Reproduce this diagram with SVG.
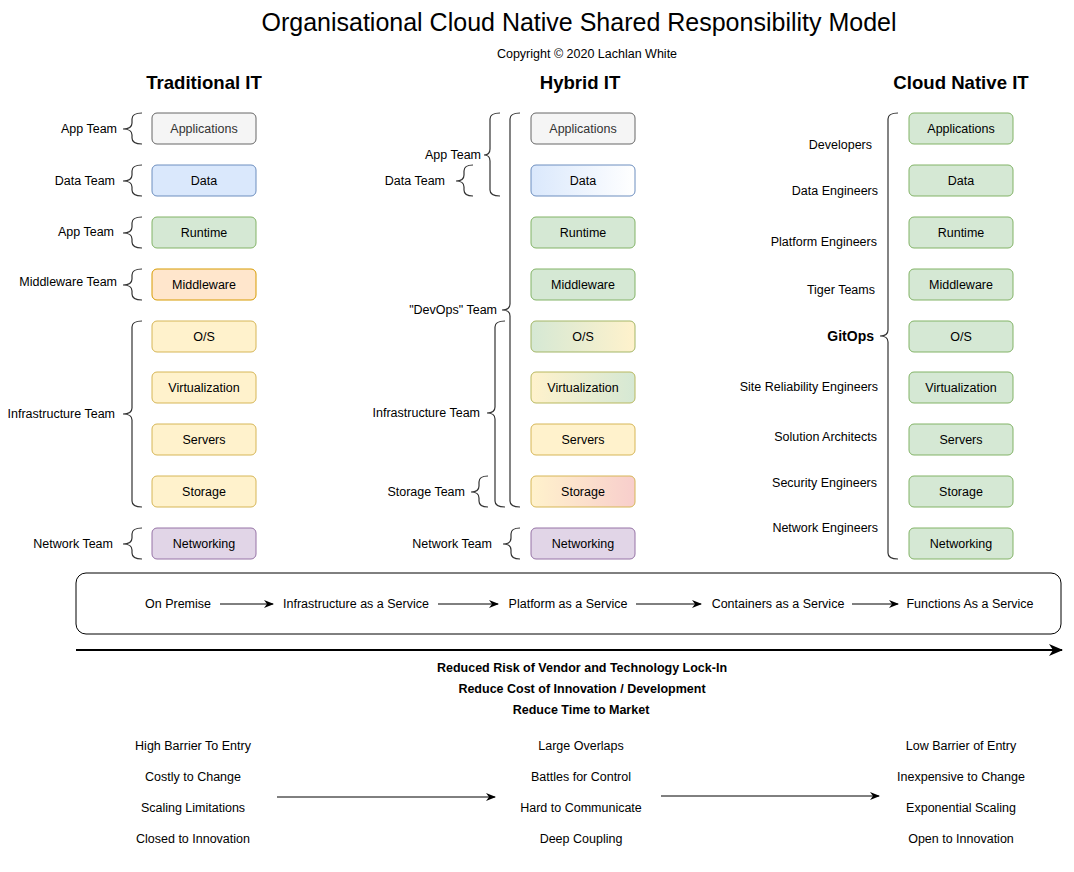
<svg xmlns="http://www.w3.org/2000/svg" width="1074" height="872" viewBox="0 0 1074 872">
<defs>
<style>
text{font-family:"Liberation Sans",Arial,Helvetica,sans-serif;fill:#000}
.t{font-size:25px;text-anchor:middle}
.cp{font-size:12.5px;text-anchor:middle}
.h{font-size:18.6px;font-weight:bold;text-anchor:middle}
.bx{font-size:12.5px;text-anchor:middle;dominant-baseline:central}
.lb{font-size:12.5px;text-anchor:end;dominant-baseline:central}
.md{font-size:12.5px;text-anchor:middle;dominant-baseline:central}
.bd{font-size:12.5px;font-weight:bold;text-anchor:middle;dominant-baseline:central}
.br{fill:none;stroke:#333;stroke-width:1.2}
.gray{fill:#f5f5f5;stroke:#666}
.blue{fill:#dae8fc;stroke:#6c8ebf}
.green{fill:#d5e8d4;stroke:#82b366}
.orange{fill:#ffe6cc;stroke:#d79b00}
.yellow{fill:#fff2cc;stroke:#d6b656}
.purple{fill:#e1d5e7;stroke:#9673a6}
rect.n{stroke-width:1}
.ar{stroke:#000;stroke-width:1;fill:none}
</style>
<linearGradient id="gBlue" x1="0" x2="1" y1="0" y2="0"><stop offset="0" stop-color="#dae8fc"/><stop offset="1" stop-color="#ffffff"/></linearGradient>
<linearGradient id="gGY" x1="0" x2="1" y1="0" y2="0"><stop offset="0" stop-color="#d5e8d4"/><stop offset="1" stop-color="#fff2cc"/></linearGradient>
<linearGradient id="gYG" x1="0" x2="1" y1="0" y2="0"><stop offset="0" stop-color="#fff2cc"/><stop offset="1" stop-color="#d5e8d4"/></linearGradient>
<linearGradient id="gYR" x1="0" x2="1" y1="0" y2="0"><stop offset="0" stop-color="#fff2cc"/><stop offset="1" stop-color="#f8cecc"/></linearGradient>
<marker id="ah" markerWidth="10" markerHeight="8" refX="9" refY="4" orient="auto" markerUnits="userSpaceOnUse"><path d="M0,0 L10,4 L0,8 L3,4 Z" fill="#000"/></marker>
<marker id="ahb" markerWidth="14" markerHeight="12" refX="13" refY="6" orient="auto" markerUnits="userSpaceOnUse"><path d="M0,0 L14,6 L0,12 L4,6 Z" fill="#000"/></marker>
</defs>
<rect width="1074" height="872" fill="#fff"/>

<g id="title">
<text class="t" x="579" y="31">Organisational Cloud Native Shared Responsibility Model</text>
<text class="cp" x="587" y="58">Copyright © 2020 Lachlan White</text>
</g>

<g id="headers">
<text class="h" x="204" y="89">Traditional IT</text>
<text class="h" x="580" y="89">Hybrid IT</text>
<text class="h" x="961" y="89">Cloud Native IT</text>
</g>

<!-- Traditional IT -->
<g id="trad-applications"><rect class="n gray" x="152" y="113" width="104" height="31" rx="5"/><text class="bx" x="204" y="129" style="fill:#333">Applications</text></g>
<g id="trad-data"><rect class="n blue" x="152" y="165" width="104" height="31" rx="5"/><text class="bx" x="204" y="181">Data</text></g>
<g id="trad-runtime"><rect class="n green" x="152" y="217" width="104" height="31" rx="5"/><text class="bx" x="204" y="233">Runtime</text></g>
<g id="trad-middleware"><rect class="n orange" x="152" y="269" width="104" height="31" rx="5"/><text class="bx" x="204" y="285">Middleware</text></g>
<g id="trad-os"><rect class="n yellow" x="152" y="321" width="104" height="31" rx="5"/><text class="bx" x="204" y="337">O/S</text></g>
<g id="trad-virtualization"><rect class="n yellow" x="152" y="372" width="104" height="31" rx="5"/><text class="bx" x="204" y="388">Virtualization</text></g>
<g id="trad-servers"><rect class="n yellow" x="152" y="424" width="104" height="31" rx="5"/><text class="bx" x="204" y="440">Servers</text></g>
<g id="trad-storage"><rect class="n yellow" x="152" y="476" width="104" height="31" rx="5"/><text class="bx" x="204" y="492">Storage</text></g>
<g id="trad-networking"><rect class="n purple" x="152" y="528" width="104" height="31" rx="5"/><text class="bx" x="204" y="544">Networking</text></g>

<g id="trad-teams">
<text class="lb" x="117" y="129">App Team</text>
<text class="lb" x="115" y="181">Data Team</text>
<text class="lb" x="114" y="232">App Team</text>
<text class="lb" x="117" y="282">Middleware Team</text>
<text class="lb" x="115" y="414">Infrastructure Team</text>
<text class="lb" x="113" y="544">Network Team</text>
</g>

<!-- Hybrid IT -->
<g id="hyb-applications"><rect class="n gray" x="531" y="113" width="104" height="31" rx="5"/><text class="bx" x="583" y="129" style="fill:#333">Applications</text></g>
<g id="hyb-data"><rect class="n" x="531" y="165" width="104" height="31" rx="5" fill="url(#gBlue)" stroke="#6c8ebf"/><text class="bx" x="583" y="181">Data</text></g>
<g id="hyb-runtime"><rect class="n green" x="531" y="217" width="104" height="31" rx="5"/><text class="bx" x="583" y="233">Runtime</text></g>
<g id="hyb-middleware"><rect class="n green" x="531" y="269" width="104" height="31" rx="5"/><text class="bx" x="583" y="285">Middleware</text></g>
<g id="hyb-os"><rect class="n" x="531" y="321" width="104" height="31" rx="5" fill="url(#gGY)" stroke="#a3b666"/><text class="bx" x="583" y="337">O/S</text></g>
<g id="hyb-virtualization"><rect class="n" x="531" y="372" width="104" height="31" rx="5" fill="url(#gYG)" stroke="#b8b85e"/><text class="bx" x="583" y="388">Virtualization</text></g>
<g id="hyb-servers"><rect class="n yellow" x="531" y="424" width="104" height="31" rx="5"/><text class="bx" x="583" y="440">Servers</text></g>
<g id="hyb-storage"><rect class="n" x="531" y="476" width="104" height="31" rx="5" fill="url(#gYR)" stroke="#d6b656"/><text class="bx" x="583" y="492">Storage</text></g>
<g id="hyb-networking"><rect class="n purple" x="531" y="528" width="104" height="31" rx="5"/><text class="bx" x="583" y="544">Networking</text></g>

<g id="hyb-teams">
<text class="lb" x="481" y="155">App Team</text>
<text class="lb" x="445" y="181">Data Team</text>
<text class="lb" x="497" y="310">"DevOps" Team</text>
<text class="lb" x="480" y="413">Infrastructure Team</text>
<text class="lb" x="465" y="492">Storage Team</text>
<text class="lb" x="492" y="544">Network Team</text>
</g>

<!-- Cloud Native IT -->
<g id="cn-applications"><rect class="n green" x="909" y="113" width="104" height="31" rx="5"/><text class="bx" x="961" y="129">Applications</text></g>
<g id="cn-data"><rect class="n green" x="909" y="165" width="104" height="31" rx="5"/><text class="bx" x="961" y="181">Data</text></g>
<g id="cn-runtime"><rect class="n green" x="909" y="217" width="104" height="31" rx="5"/><text class="bx" x="961" y="233">Runtime</text></g>
<g id="cn-middleware"><rect class="n green" x="909" y="269" width="104" height="31" rx="5"/><text class="bx" x="961" y="285">Middleware</text></g>
<g id="cn-os"><rect class="n green" x="909" y="321" width="104" height="31" rx="5"/><text class="bx" x="961" y="337">O/S</text></g>
<g id="cn-virtualization"><rect class="n green" x="909" y="372" width="104" height="31" rx="5"/><text class="bx" x="961" y="388">Virtualization</text></g>
<g id="cn-servers"><rect class="n green" x="909" y="424" width="104" height="31" rx="5"/><text class="bx" x="961" y="440">Servers</text></g>
<g id="cn-storage"><rect class="n green" x="909" y="476" width="104" height="31" rx="5"/><text class="bx" x="961" y="492">Storage</text></g>
<g id="cn-networking"><rect class="n green" x="909" y="528" width="104" height="31" rx="5"/><text class="bx" x="961" y="544">Networking</text></g>

<g id="cn-teams">
<text class="lb" x="872" y="145">Developers</text>
<text class="lb" x="878" y="191">Data Engineers</text>
<text class="lb" x="877" y="242">Platform Engineers</text>
<text class="lb" x="875" y="290">Tiger Teams</text>
<text class="lb" x="874" y="336" style="font-weight:bold;font-size:14px">GitOps</text>
<text class="lb" x="878" y="387">Site Reliability Engineers</text>
<text class="lb" x="877" y="437">Solution Architects</text>
<text class="lb" x="877" y="483">Security Engineers</text>
<text class="lb" x="878" y="528">Network Engineers</text>
</g>

<g id="connectors">
<!-- traditional braces -->
<path class="br" d="M142,113 Q132,113 132,119 L132,123 Q132,129 123,129 Q132,129 132,135 L132,138 Q132,144 142,144"/>
<path class="br" d="M142,165 Q132,165 132,171 L132,175 Q132,181 123,181 Q132,181 132,187 L132,190 Q132,196 142,196"/>
<path class="br" d="M142,217 Q132,217 132,223 L132,227 Q132,233 123,233 Q132,233 132,239 L132,242 Q132,248 142,248"/>
<path class="br" d="M142,269 Q132,269 132,275 L132,279 Q132,285 123,285 Q132,285 132,291 L132,294 Q132,300 142,300"/>
<path class="br" d="M142,321 Q132,321 132,327 L132,408 Q132,414 123,414 Q132,414 132,420 L132,501 Q132,507 142,507"/>
<path class="br" d="M142,528 Q132,528 132,534 L132,538 Q132,544 123,544 Q132,544 132,550 L132,553 Q132,559 142,559"/>
<!-- hybrid braces -->
<path class="br" d="M500,113 Q490,113 490,119 L490,149 Q490,155 484,155 Q490,155 490,161 L490,190 Q490,196 500,196"/>
<path class="br" d="M473,165 Q464,165 464,171 L464,175 Q464,181 456,181 Q464,181 464,187 L464,190 Q464,196 473,196"/>
<path class="br" d="M520,113 Q510,113 510,119 L510,304 Q510,310 502,310 Q510,310 510,316 L510,501 Q510,507 520,507"/>
<path class="br" d="M505,321 Q495,321 495,327 L495,407 Q495,413 487,413 Q495,413 495,419 L495,501 Q495,507 505,507"/>
<path class="br" d="M488,476 Q479,476 479,482 L479,486 Q479,492 471,492 Q479,492 479,498 L479,501 Q479,507 488,507"/>
<path class="br" d="M520,528 Q511,528 511,534 L511,538 Q511,544 503,544 Q511,544 511,550 L511,553 Q511,559 520,559"/>
<!-- cloud native brace -->
<path class="br" d="M898,113 Q888,113 888,119 L888,330 Q888,336 880,336 Q888,336 888,342 L888,553 Q888,559 898,559"/>
<!-- service band arrows -->
<line class="ar" x1="220" y1="604" x2="273" y2="604" marker-end="url(#ah)"/>
<line class="ar" x1="438" y1="604" x2="498" y2="604" marker-end="url(#ah)"/>
<line class="ar" x1="636" y1="604" x2="701" y2="604" marker-end="url(#ah)"/>
<line class="ar" x1="852" y1="604" x2="898" y2="604" marker-end="url(#ah)"/>
<!-- long arrow -->
<line x1="76" y1="650" x2="1062" y2="650" stroke="#000" stroke-width="2" marker-end="url(#ahb)"/>
<!-- bottom arrows -->
<line class="ar" x1="277" y1="797" x2="495" y2="797" stroke="#333" marker-end="url(#ah)"/>
<line class="ar" x1="661" y1="796" x2="879" y2="796" stroke="#333" marker-end="url(#ah)"/>
</g>

<g id="service-band">
<rect x="76" y="573" width="985" height="61" rx="10" fill="none" stroke="#000" stroke-width="1"/>
<text class="md" x="178" y="604">On Premise</text>
<text class="md" x="356" y="604">Infrastructure as a Service</text>
<text class="md" x="568" y="604">Platform as a Service</text>
<text class="md" x="778" y="604">Containers as a Service</text>
<text class="md" x="970" y="604">Functions As a Service</text>
</g>

<g id="benefits">
<text class="bd" x="582" y="668">Reduced Risk of Vendor and Technology Lock-In</text>
<text class="bd" x="582" y="689">Reduce Cost of Innovation / Development</text>
<text class="bd" x="581" y="710">Reduce Time to Market</text>
</g>

<g id="trad-traits">
<text class="md" x="193" y="746">High Barrier To Entry</text>
<text class="md" x="193" y="777">Costly to Change</text>
<text class="md" x="193" y="808">Scaling Limitations</text>
<text class="md" x="193" y="839">Closed to Innovation</text>
</g>
<g id="hyb-traits">
<text class="md" x="581" y="746">Large Overlaps</text>
<text class="md" x="581" y="777">Battles for Control</text>
<text class="md" x="581" y="808">Hard to Communicate</text>
<text class="md" x="581" y="839">Deep Coupling</text>
</g>
<g id="cn-traits">
<text class="md" x="961" y="746">Low Barrier of Entry</text>
<text class="md" x="961" y="777">Inexpensive to Change</text>
<text class="md" x="961" y="808">Exponential Scaling</text>
<text class="md" x="961" y="839">Open to Innovation</text>
</g>
</svg>
